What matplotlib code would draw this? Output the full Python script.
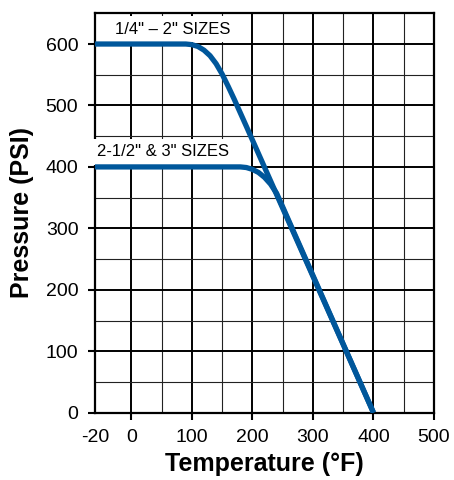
import matplotlib
matplotlib.use("Agg")
import matplotlib.pyplot as plt
from matplotlib.ticker import FixedLocator

plt.rcParams['font.family'] = ['Liberation Sans', 'DejaVu Sans']

# Data
temp_small = [-60, 90, 100, 110, 120, 130, 140, 150, 160, 170, 180, 190, 400]
pres_small = [600, 600, 599, 596, 590, 581, 568, 551, 531, 510, 488, 466, 0]
temp_large = [-60, 180, 190, 200, 210, 220, 230, 240, 250, 400]
pres_large = [400, 400, 399, 396, 391, 383, 372, 357, 335, 0]

x_ticks = [-60, 0, 100, 200, 300, 400, 500]
x_tick_labels = ['-20', '0', '100', '200', '300', '400', '500']
x_minor = [50, 150, 250, 350, 450]
y_ticks = [0, 100, 200, 300, 400, 500, 600]
y_minor = [50, 150, 250, 350, 450, 550]
label_small = '1/4" \u2013 2" SIZES'
label_large = '2-1/2" & 3" SIZES'

blue = '#00579B'

fig = plt.figure(figsize=(4.54, 4.8), dpi=100)
ax = fig.add_axes([0.2093, 0.1402, 0.956 - 0.2093, 0.9723 - 0.1402])

ax.set_xlim(-60, 500)
ax.set_ylim(0, 650)

ax.set_xticks(x_ticks)
ax.set_xticklabels(x_tick_labels)
ax.set_yticks(y_ticks)
ax.xaxis.set_minor_locator(FixedLocator(x_minor))
ax.yaxis.set_minor_locator(FixedLocator(y_minor))

ax.set_axisbelow(True)
ax.grid(which='major', color='black', linewidth=1.4)
ax.grid(which='minor', color='#222222', linewidth=0.8)
for spine in ax.spines.values():
    spine.set_linewidth(1.6)
    spine.set_color('black')

ax.tick_params(which='major', direction='out', length=5, width=1.5,
               labelsize=14, pad=7, colors='black')
ax.tick_params(which='minor', length=0)
ax.xaxis.get_major_ticks()[0].tick1line.set_visible(False)

ax.plot(temp_small, pres_small, color=blue, linewidth=3.8,
        solid_capstyle='butt', solid_joinstyle='round', zorder=5)
ax.plot(temp_large, pres_large, color=blue, linewidth=3.8,
        solid_capstyle='butt', solid_joinstyle='round', zorder=5)

ax.text(-27, 624, label_small, fontsize=12, ha='left', va='center', zorder=4,
        bbox=dict(facecolor='white', edgecolor='none', pad=4))
ax.text(-56, 425, label_large, fontsize=12, ha='left', va='center', zorder=4,
        bbox=dict(facecolor='white', edgecolor='none', pad=4))

ax.set_xlabel('Temperature (\u00b0F)', fontsize=18, fontweight='bold', labelpad=4)
ax.set_ylabel('Pressure (PSI)', fontsize=18, fontweight='bold', labelpad=8)

fig.savefig('out.png', dpi=100)
